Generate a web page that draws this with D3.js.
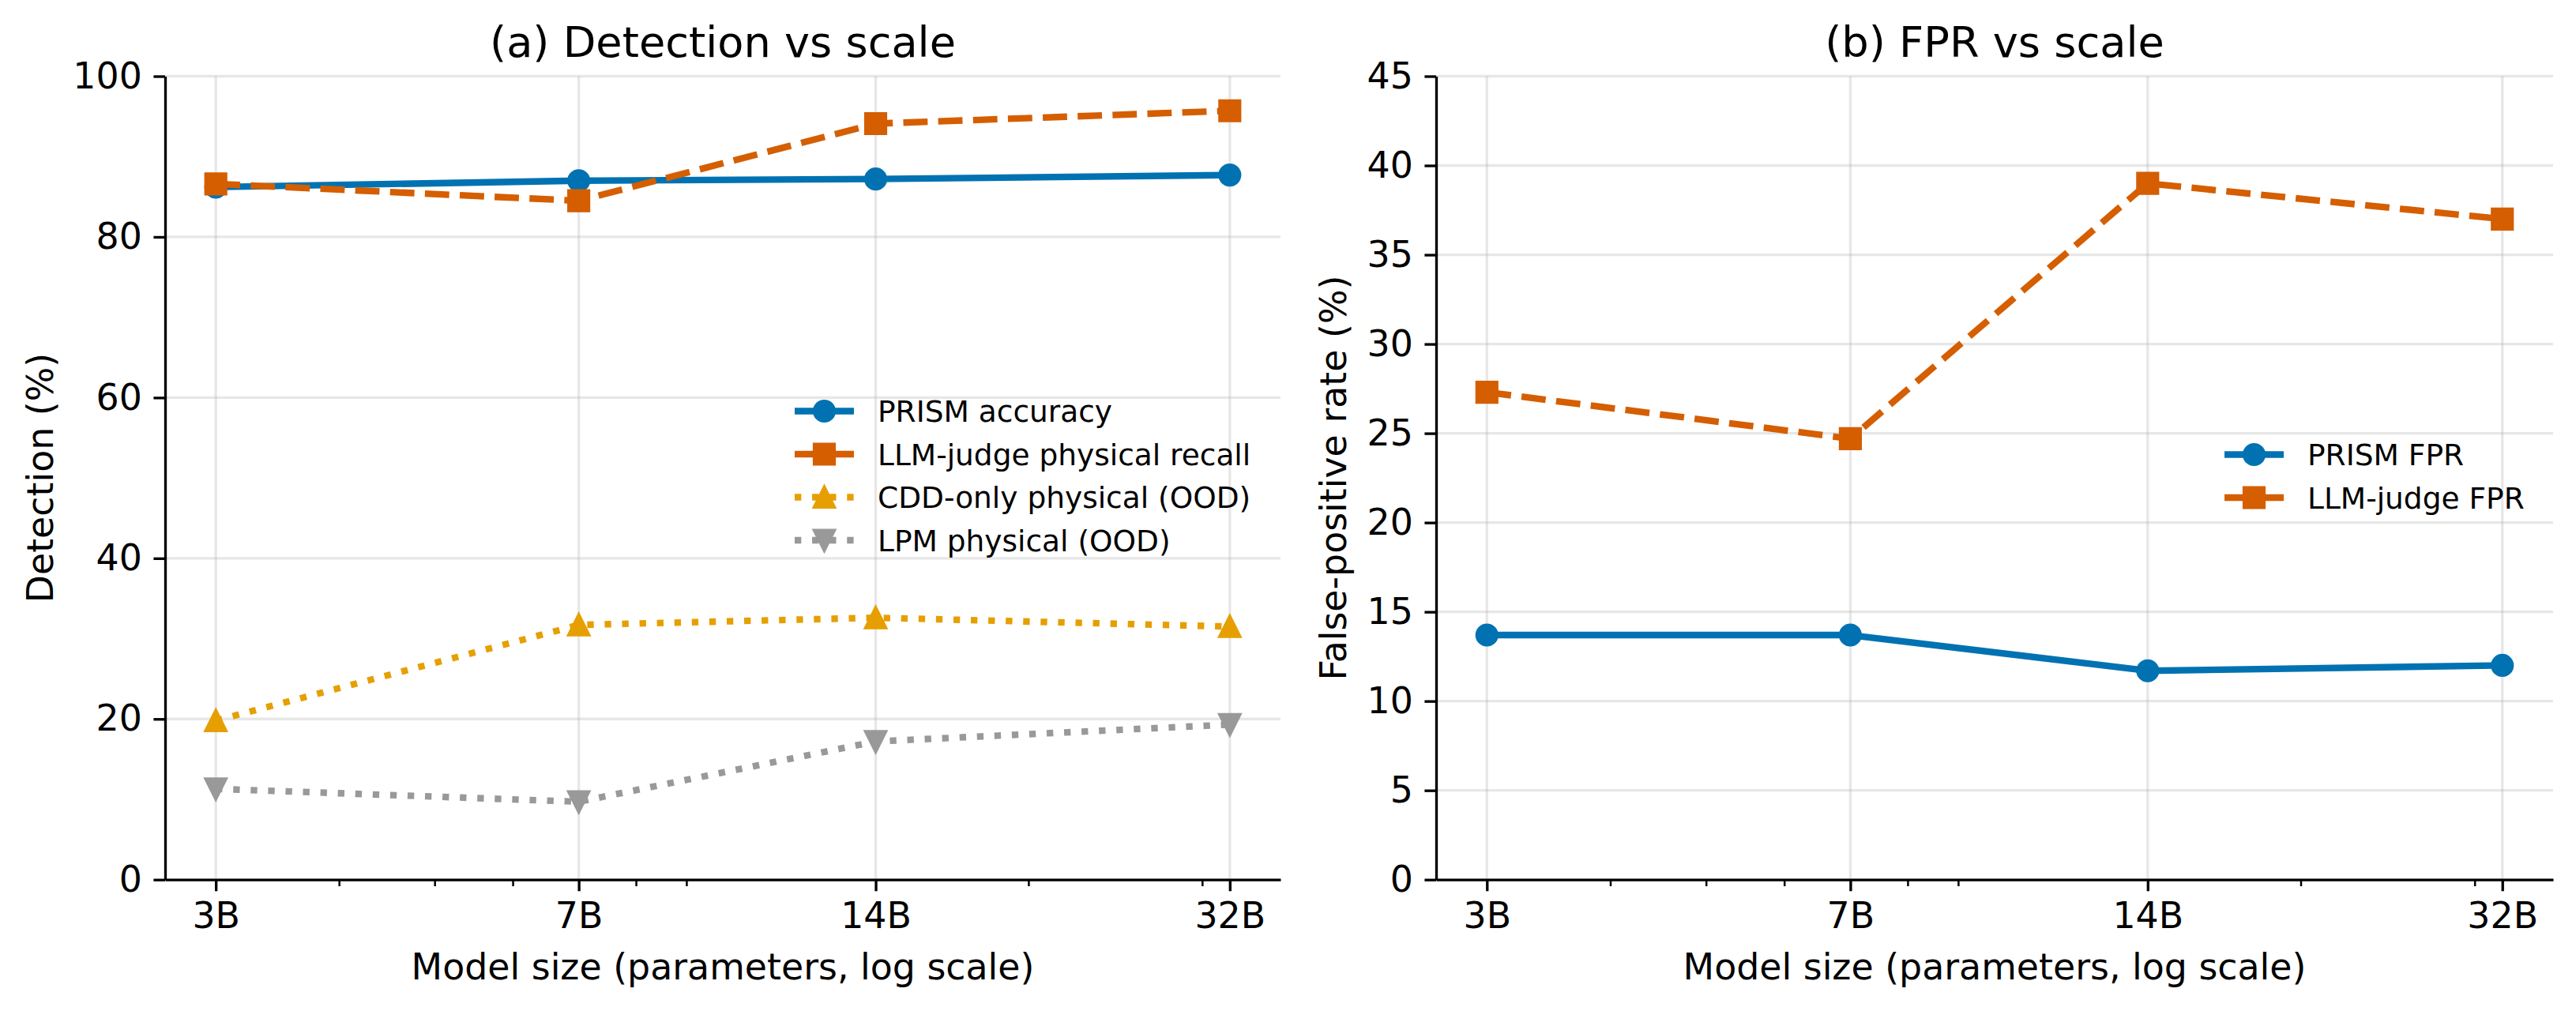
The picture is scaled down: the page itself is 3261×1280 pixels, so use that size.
<!DOCTYPE html>
<html>
<head>
<meta charset="utf-8">
<script src="https://cdn.jsdelivr.net/npm/d3@7"></script>
<style>
  body { margin: 0; background: #fff; }
  text { font-family: "DejaVu Sans", sans-serif; }
</style>
</head>
<body>
<script>
let width = 3261;
let height = 1280;

// data

let sizes = [3, 7, 14, 32];
let sizeLabels = ["3B", "7B", "14B", "32B"];
let minorSizes = [4, 5, 6, 8, 9, 20, 30];

let prismAcc = [86.2, 87.0, 87.2, 87.7];
let llmRecall = [86.6, 84.5, 94.1, 95.7];
let cddPhys = [19.8, 31.7, 32.6, 31.5];
let lpmPhys = [11.3, 9.7, 17.2, 19.3];

let prismFpr = [13.7, 13.7, 11.7, 12.0];
let llmFpr = [27.3, 24.7, 39.0, 37.0];

let detTicks = [0, 20, 40, 60, 80, 100];
let fprTicks = [0, 5, 10, 15, 20, 25, 30, 35, 40, 45];

// 1pt at 300 dpi
let pt = 300 / 72;

let blue = "#0072B2", vermil = "#D55E00", amber = "#E69F00", grey = "#999999";

let svg = d3.select("body")
    .append("svg")
    .attr("width", width)
    .attr("height", height);

// log x with the usual 5% margin either side
let pad = Math.log(32 / 3) * 0.05;
let xDomain = [3 * Math.exp(-pad), 32 * Math.exp(pad)];

let plotTop = 96.5, plotBottom = 1113.7;

let panels = [
    {
        title: "(a) Detection vs scale",
        ylabel: "Detection (%)",
        left: 209, right: 1621,
        ymax: 100, ticks: detTicks,
        ylabelX: 67,
        series: [
            { name: "PRISM accuracy", values: prismAcc, color: blue, dash: null, marker: "o" },
            { name: "LLM-judge physical recall", values: llmRecall, color: vermil, dash: "dash", marker: "s" },
            { name: "CDD-only physical (OOD)", values: cddPhys, color: amber, dash: "dot", marker: "^" },
            { name: "LPM physical (OOD)", values: lpmPhys, color: grey, dash: "dot", marker: "v" }
        ],
        legendX: 1006, legendY: 520.5
    },
    {
        title: "(b) FPR vs scale",
        ylabel: "False-positive rate (%)",
        left: 1818, right: 3232,
        ymax: 45, ticks: fprTicks,
        ylabelX: 1704,
        series: [
            { name: "PRISM FPR", values: prismFpr, color: blue, dash: null, marker: "o" },
            { name: "LLM-judge FPR", values: llmFpr, color: vermil, dash: "dash", marker: "s" }
        ],
        legendX: 2816, legendY: 575.5
    }
];

function dashArray(kind) {
    let lw = 2;
    if (kind === "dash") return (3.7 * lw * pt) + "," + (1.6 * lw * pt);
    if (kind === "dot") return (1 * lw * pt) + "," + (1.65 * lw * pt);
    return null;
}

function markerPath(kind) {
    let h = 6 * pt / 2;
    if (kind === "o") return d3.symbol(d3.symbolCircle, Math.PI * h * h)();
    if (kind === "s") return "M" + (-h) + "," + (-h) + "H" + h + "V" + h + "H" + (-h) + "Z";
    if (kind === "^") return "M0," + (-h) + "L" + h + "," + h + "L" + (-h) + "," + h + "Z";
    return "M0," + h + "L" + h + "," + (-h) + "L" + (-h) + "," + (-h) + "Z";
}

panels.forEach(function(p) {
    let x = d3.scaleLog().domain(xDomain).range([p.left, p.right]);
    let y = d3.scaleLinear().domain([0, p.ymax]).range([plotBottom, plotTop]);

    let g = svg.append("g");

    //grid

    g.selectAll(".vgrid")
        .data(sizes)
        .enter()
        .append("line")
        .attr("x1", function(d) { return x(d); })
        .attr("x2", function(d) { return x(d); })
        .attr("y1", plotTop)
        .attr("y2", plotBottom)
        .attr("stroke", "#b0b0b0")
        .attr("stroke-opacity", 0.3)
        .attr("stroke-width", 0.8 * pt);

    g.selectAll(".hgrid")
        .data(p.ticks)
        .enter()
        .append("line")
        .attr("x1", p.left)
        .attr("x2", p.right)
        .attr("y1", function(d) { return y(d); })
        .attr("y2", function(d) { return y(d); })
        .attr("stroke", "#b0b0b0")
        .attr("stroke-opacity", 0.3)
        .attr("stroke-width", 0.8 * pt);

    //axes

    let xAxis = g.append("g")
        .attr("transform", "translate(0," + plotBottom + ")")
        .call(d3.axisBottom(x)
            .tickValues(sizes)
            .tickFormat(function(d, i) { return sizeLabels[i]; })
            .tickSize(3.5 * pt)
            .tickSizeOuter(0)
            .tickPadding(3.5 * pt));

    let xMinor = g.append("g")
        .attr("transform", "translate(0," + plotBottom + ")")
        .call(d3.axisBottom(x)
            .tickValues(minorSizes)
            .tickFormat("")
            .tickSize(2 * pt)
            .tickSizeOuter(0));
    xMinor.select(".domain").remove();
    xMinor.selectAll("line").attr("stroke-width", 0.6 * pt);

    let yAxis = g.append("g")
        .attr("transform", "translate(" + p.left + ",0)")
        .call(d3.axisLeft(y)
            .tickValues(p.ticks)
            .tickSize(3.5 * pt)
            .tickSizeOuter(0)
            .tickPadding(3.5 * pt));

    [xAxis, yAxis].forEach(function(a) {
        a.select(".domain").attr("stroke-width", 0.8 * pt);
        a.selectAll(".tick line").attr("stroke-width", 0.8 * pt);
        a.selectAll("text")
            .attr("font-family", "DejaVu Sans")
            .attr("font-size", 11 * pt)
            .attr("fill", "#000");
    });

    //lines and markers

    let line = d3.line()
        .x(function(d, i) { return x(sizes[i]); })
        .y(function(d) { return y(d); });

    p.series.forEach(function(s) {
        g.append("path")
            .datum(s.values)
            .attr("d", line)
            .attr("fill", "none")
            .attr("stroke", s.color)
            .attr("stroke-width", 2 * pt)
            .attr("stroke-linejoin", "round")
            .attr("stroke-linecap", s.dash ? "butt" : "square")
            .attr("stroke-dasharray", dashArray(s.dash));

        g.selectAll(null)
            .data(s.values)
            .enter()
            .append("path")
            .attr("d", markerPath(s.marker))
            .attr("transform", function(d, i) {
                return "translate(" + x(sizes[i]) + "," + y(d) + ")";
            })
            .attr("fill", s.color)
            .attr("stroke", s.color)
            .attr("stroke-width", 1 * pt);
    });

    //legend

    let rowGap = 54.5;
    let handleLen = 2 * 9 * pt;
    let lg = g.selectAll(".leg")
        .data(p.series)
        .enter()
        .append("g")
        .attr("transform", function(d, i) {
            return "translate(" + p.legendX + "," + (p.legendY + i * rowGap) + ")";
        });

    lg.append("line")
        .attr("x1", 0)
        .attr("x2", handleLen)
        .attr("stroke", function(d) { return d.color; })
        .attr("stroke-width", 2 * pt)
        .attr("stroke-dasharray", function(d) { return dashArray(d.dash); });

    lg.append("path")
        .attr("d", function(d) { return markerPath(d.marker); })
        .attr("transform", "translate(" + handleLen / 2 + ",0)")
        .attr("fill", function(d) { return d.color; })
        .attr("stroke", function(d) { return d.color; })
        .attr("stroke-width", 1 * pt);

    lg.append("text")
        .text(function(d) { return d.name; })
        .attr("x", handleLen + 0.8 * 9 * pt)
        .attr("y", 0)
        .attr("dy", "0.36em")
        .attr("font-size", 9 * pt)
        .attr("fill", "#000");

    //titles

    g.append("text")
        .text(p.title)
        .attr("x", (p.left + p.right) / 2)
        .attr("y", 72)
        .attr("text-anchor", "middle")
        .attr("font-size", 13 * pt);

    g.append("text")
        .text("Model size (parameters, log scale)")
        .attr("x", (p.left + p.right) / 2)
        .attr("y", 1240)
        .attr("text-anchor", "middle")
        .attr("font-size", 11 * pt);

    g.append("text")
        .text(p.ylabel)
        .attr("transform", "translate(" + p.ylabelX + "," + (plotTop + plotBottom) / 2 + ") rotate(-90)")
        .attr("text-anchor", "middle")
        .attr("font-size", 11 * pt);
});
</script>
</body>
</html>
